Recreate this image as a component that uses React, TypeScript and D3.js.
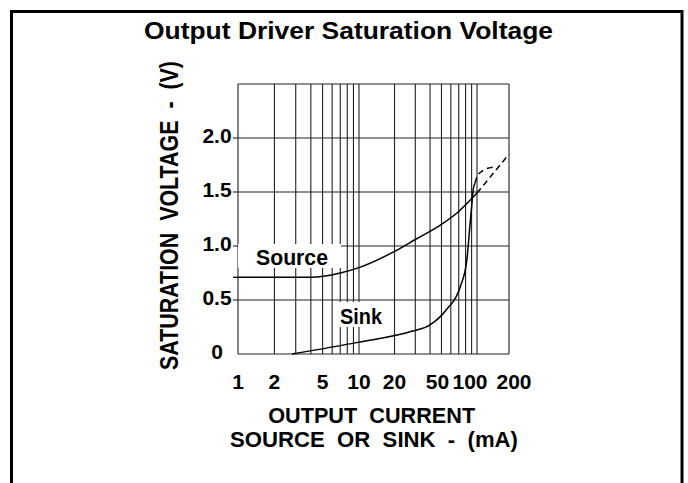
import React from 'react';
import * as d3 from 'd3';

// ---- data ----
const xTickValues = [1, 2, 5, 10, 20, 50, 100, 200];
const xTickLabels = ['1', '2', '5', '10', '20', '50', '100', '200'];
const xGridValues = [1, 2, 3, 4, 5, 6, 7, 8, 9, 10, 20, 30, 40, 50, 60, 70, 80, 90, 100, 200];
const yTickValues = [0, 0.5, 1.0, 1.5, 2.0];
const yTickLabels = ['0', '0.5', '1.0', '1.5', '2.0'];
const yGridValues = [0, 0.5, 1.0, 1.5, 2.0, 2.5];

const sourceCurrent = [1, 4, 7, 10, 20, 30, 50, 70, 100];
const sourceVoltage = [0.71, 0.71, 0.75, 0.8, 0.95, 1.06, 1.2, 1.32, 1.49];
const sourceExtCurrent = [100, 200];
const sourceExtVoltage = [1.49, 1.85];

const sinkCurrent = [2.8, 10, 28, 40, 55, 72, 82, 87, 90, 93, 96];
const sinkVoltage = [0, 0.11, 0.21, 0.27, 0.41, 0.62, 0.87, 1.18, 1.36, 1.53, 1.58];
const sinkExtCurrent = [96, 100, 114, 142];
const sinkExtVoltage = [1.58, 1.64, 1.7, 1.73];

const title = 'Output Driver Saturation Voltage';
const yTitle = 'SATURATION  VOLTAGE  -  (V)';
const xTitle1 = 'OUTPUT  CURRENT';
const xTitle2 = 'SOURCE  OR  SINK  -  (mA)';
const sourceLabel = 'Source';
const sinkLabel = 'Sink';

// ---- layout ----
const W = 688;
const H = 483;
const FONT = '"Liberation Sans", Arial, Helvetica, sans-serif';
const xTickNudge = [0, 0, 0, 0, 0, -4, -7, 5];
const pre: React.CSSProperties = { whiteSpace: 'pre' };

export default function App() {
  const x = d3.scaleLog().domain([1, 10, 100, 200]).range([238, 359, 477, 509]);
  const y = d3.scaleLinear().domain([0, 2.5]).range([354, 84]);
  const x0 = x(1), x1 = x(200), y0 = y(0), y1 = y(2.5);

  const line = d3
    .line<[number, number]>()
    .x((d) => x(d[0]))
    .y((d) => y(d[1]))
    .curve(d3.curveMonotoneX);

  const zip = (a: number[], b: number[]) => a.map((v, i) => [v, b[i]] as [number, number]);

  const gridColor = '#222';

  return (
    <svg
      width={W}
      height={H}
      style={{ position: 'absolute', left: 0, top: 0, background: '#fff' }}
      fontFamily={FONT}
    >
      <rect x={0} y={0} width={W} height={H} fill="#fff" />
      {/* frame */}
      <rect x={11.5} y={11.5} width={670.5} height={520} fill="none" stroke="#000" strokeWidth={3} />

      {/* title */}
      <text x={348.5} y={38.5} textAnchor="middle" fontSize={24} fontWeight="bold" textLength={409} lengthAdjust="spacingAndGlyphs">
        {title}
      </text>

      {/* grid */}
      {xGridValues.map((v) => (
        <line key={'vx' + v} x1={x(v)} x2={x(v)} y1={y0} y2={y1} stroke={gridColor} strokeWidth={1.1} />
      ))}
      {yGridValues.map((v) => (
        <line key={'hy' + v} x1={x0} x2={x1} y1={y(v)} y2={y(v)} stroke={gridColor} strokeWidth={1.1} />
      ))}
      {yTickValues.filter((v) => v > 0).map((v) => (
        <line key={'ty' + v} x1={x0 - 5} x2={x0} y1={y(v)} y2={y(v)} stroke={gridColor} strokeWidth={1.1} />
      ))}

      {/* label boxes */}
      <rect x={x0} y={244} width={103} height={24} fill="#fff" />
      <rect x={336} y={302} width={49} height={25} fill="#fff" />
      <text x={292} y={265} textAnchor="middle" fontSize={22} fontWeight="bold" textLength={72} lengthAdjust="spacingAndGlyphs">
        {sourceLabel}
      </text>
      <text x={361} y={323.5} textAnchor="middle" fontSize={22} fontWeight="bold" textLength={42} lengthAdjust="spacingAndGlyphs">
        {sinkLabel}
      </text>

      {/* curves */}
      <line x1={x0 - 5} x2={x0} y1={y(sourceVoltage[0])} y2={y(sourceVoltage[0])} stroke="#000" strokeWidth={1.4} />
      <path d={line(zip(sourceCurrent, sourceVoltage)) || ''} fill="none" stroke="#000" strokeWidth={1.5} />
      <path d={line(zip(sourceExtCurrent, sourceExtVoltage)) || ''} fill="none" stroke="#000" strokeWidth={1.5} strokeDasharray="6,4" />
      <path d={line(zip(sinkCurrent, sinkVoltage)) || ''} fill="none" stroke="#000" strokeWidth={1.5} />
      <path d={line(zip(sinkExtCurrent, sinkExtVoltage)) || ''} fill="none" stroke="#000" strokeWidth={1.5} strokeDasharray="6,4" />

      {/* y tick labels */}
      {yTickValues.map((v, i) => (
        <text key={'yl' + v} x={217} y={y(v) + 5} textAnchor="middle" fontSize={21} fontWeight="bold">
          {yTickLabels[i]}
        </text>
      ))}

      {/* x tick labels */}
      {xTickValues.map((v, i) => (
        <text key={'xl' + v} x={x(v) + xTickNudge[i]} y={388.5} textAnchor="middle" fontSize={21} fontWeight="bold">
          {xTickLabels[i]}
        </text>
      ))}

      {/* axis titles */}
      <text
        transform="translate(178,215.5) rotate(-90)"
        textAnchor="middle"
        fontSize={26}
        fontWeight="bold"
        textLength={309}
        lengthAdjust="spacingAndGlyphs"
        xmlSpace="preserve"
        style={pre}
      >
        {yTitle}
      </text>
      <text x={371.7} y={423} textAnchor="middle" fontSize={21.5} fontWeight="bold" textLength={207} lengthAdjust="spacingAndGlyphs" xmlSpace="preserve" style={pre}>
        {xTitle1}
      </text>
      <text x={374} y={446.5} textAnchor="middle" fontSize={21.5} fontWeight="bold" textLength={288} lengthAdjust="spacingAndGlyphs" xmlSpace="preserve" style={pre}>
        {xTitle2}
      </text>
    </svg>
  );
}
